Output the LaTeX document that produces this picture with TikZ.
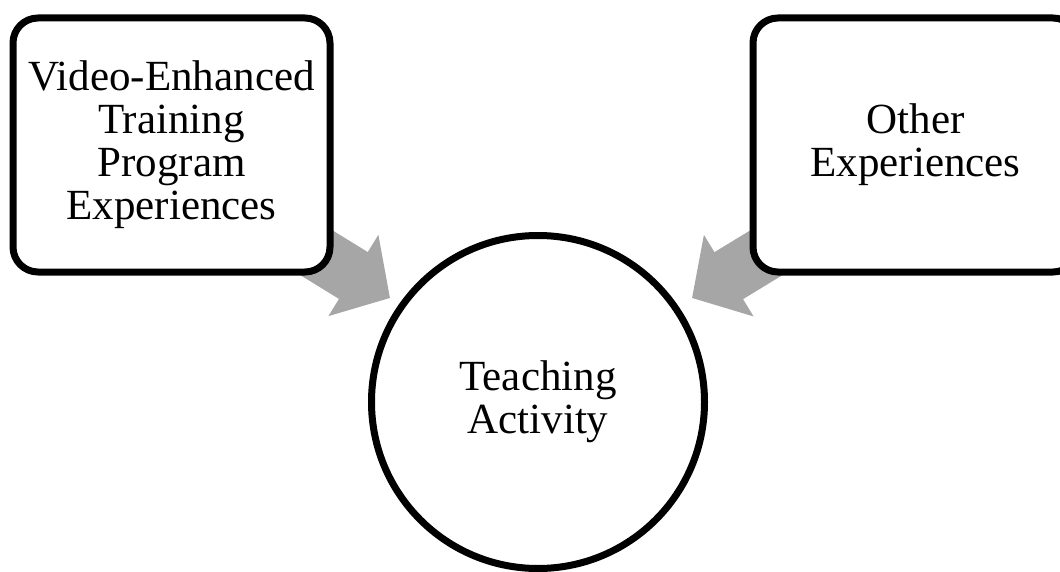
\documentclass[tikz,border=0pt]{standalone}
\usepackage{fontspec}
\setmainfont{Liberation Serif}
\usetikzlibrary{positioning}
\usetikzlibrary{arrows.meta}
\usetikzlibrary{backgrounds}
\definecolor{arrowgray}{RGB}{166,166,166}

\begin{document}
\begin{tikzpicture}[x=1pt, y=-1pt,
    every node/.style={draw, line width=7pt, fill=white, align=center, font=\fontsize{43}{43}\selectfont},
    bigarrow/.style={draw=arrowgray, line width=55pt, -{Triangle[length=43pt, width=93pt]}}]
              \useasboundingbox (0,0) rectangle (1060,572);
              % Nodos
              \node[rectangle, rounded corners=25pt, minimum width=317pt, minimum height=254pt] (video) at (171.5,145) {Video-Enhanced\\Training\\Program\\Experiences};
              \node[rectangle, rounded corners=25pt, minimum width=325pt, minimum height=254pt] (other) at (915.5,145) {Other\\Experiences};
              \node[circle, minimum size=333pt, inner sep=0pt] (activity) at (538,402) {Teaching\\Activity};
              \coordinate (vtip) at ([xshift=-148pt,yshift=104pt]activity.center);
              \coordinate (otip) at ([xshift=154pt,yshift=104pt]activity.center);

              % Flechas
              \begin{scope}[on background layer]
              \draw[bigarrow] ([xshift=-37pt,yshift=35pt]video.south east) -- (vtip);
              \draw[bigarrow] ([xshift=37pt,yshift=35pt]other.south west) -- (otip);
              \end{scope}
            \end{tikzpicture}
\end{document}
